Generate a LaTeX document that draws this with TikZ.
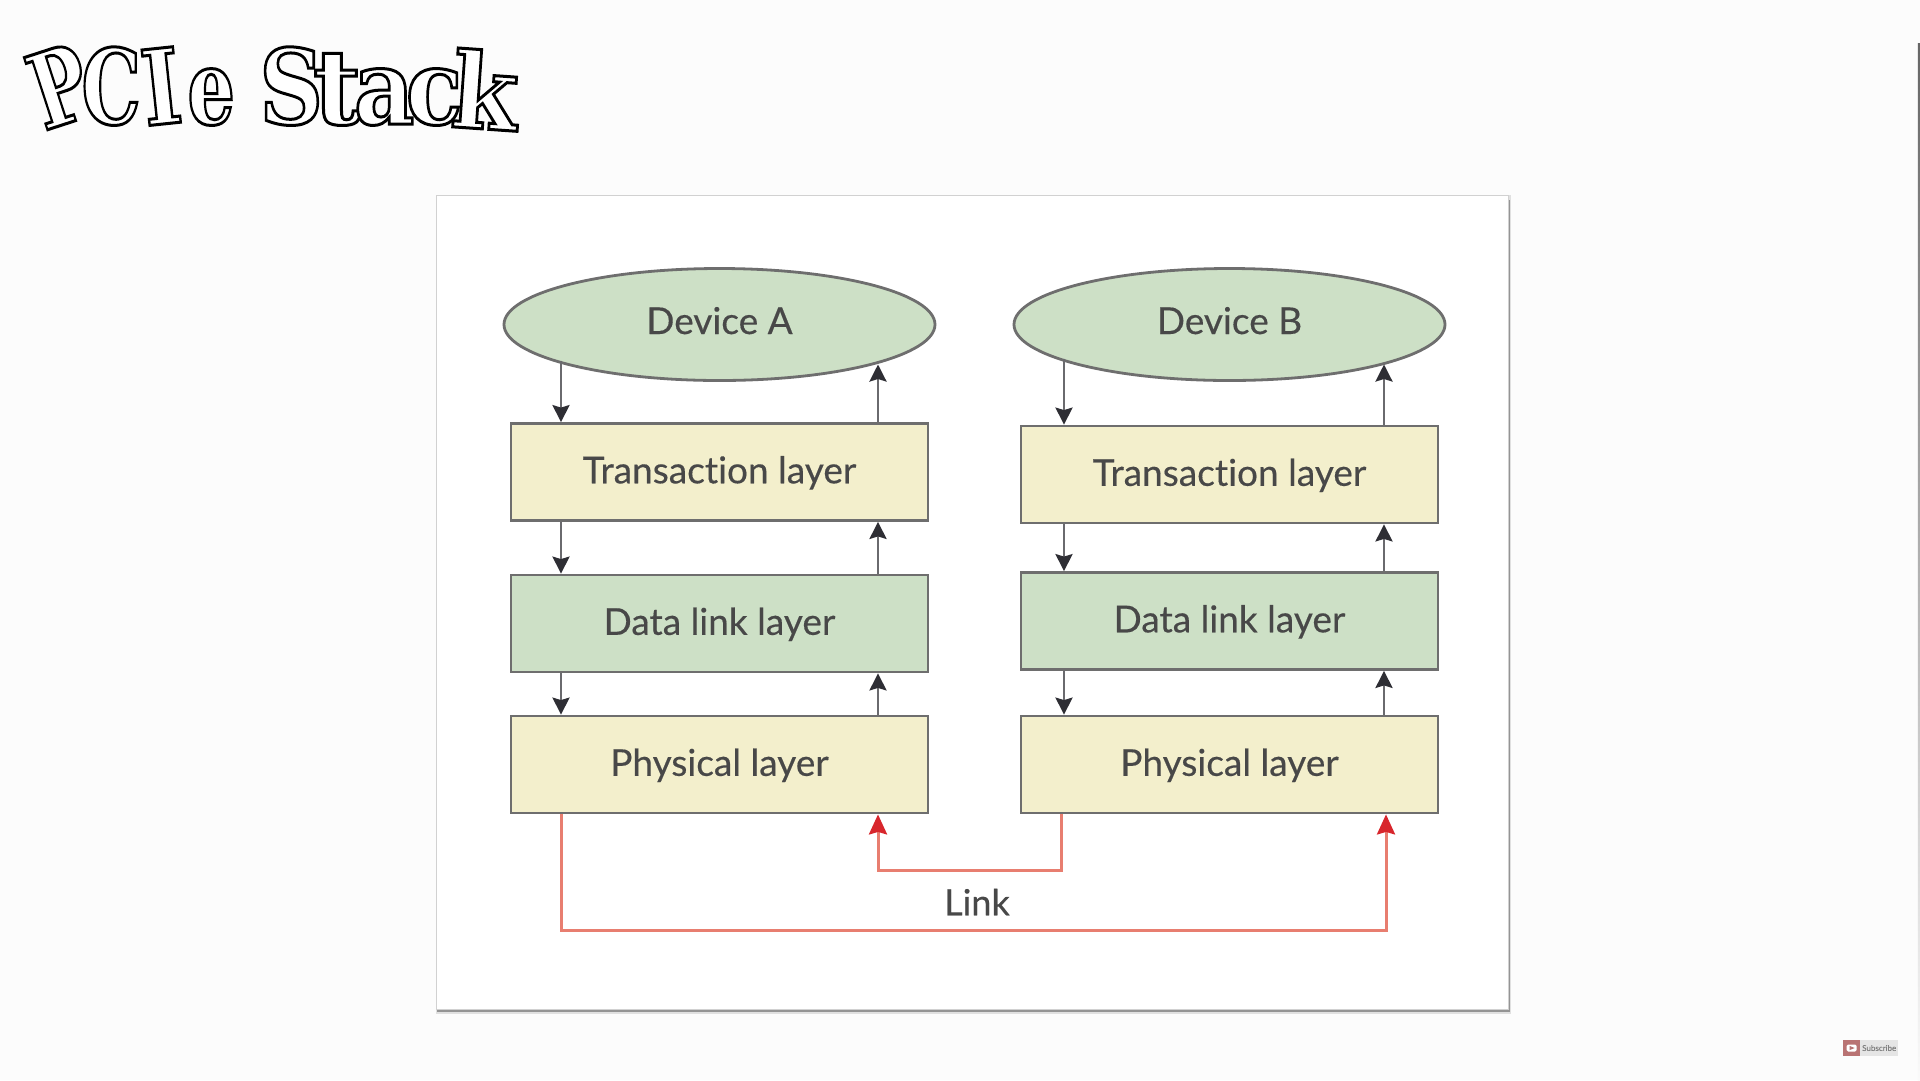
\documentclass[tikz,border=0pt]{standalone}
\usepackage{fontspec}
\usepackage{graphicx}
\setmainfont[Ligatures=NoCommon,FakeBold=0.35]{Lato}
\newfontfamily\titlefont{DejaVu Serif Bold}
\usetikzlibrary{arrows.meta,shapes.geometric,calc}
\definecolor{boxline}{HTML}{6E6E6E}
\definecolor{txt}{HTML}{484848}
\definecolor{yel}{HTML}{F3EFCC}
\definecolor{grn}{HTML}{CDE0C6}
\definecolor{stem}{HTML}{6A6A6E}
\definecolor{headc}{HTML}{2E2E34}
\definecolor{redl}{HTML}{E87E70}
\definecolor{redh}{HTML}{D8262C}
\newcommand{\lett}[5]{\makebox[#1pt][c]{\raisebox{#3pt}{\rotatebox[origin=c]{#2}{\scalebox{#4}[1]{\special{pdf:code 2 Tr 3 w 1 g 0 G}#5\special{pdf:code 0 Tr 1 w 0 g 0 G}}}}}}
\tikzset{
  layerbox/.style={draw=boxline,line width=2.8pt,minimum width=417pt,minimum height=97pt,inner sep=0pt,font=\fontsize{37}{44}\selectfont,text=txt,text height=22.6pt,text depth=0pt},
  yelbox/.style={layerbox,fill=yel},
  grnbox/.style={layerbox,fill=grn},
  devell/.style={ellipse,draw=boxline,line width=2.8pt,fill=grn,minimum width=431pt,minimum height=112pt,inner sep=0pt,font=\fontsize{37}{44}\selectfont,text=txt,text height=19pt,text depth=0pt},
  arr/.style={draw=stem,line width=2.6pt,-{Stealth[length=17pt,width=17pt,inset=2.5pt,fill=headc,color=headc]}},
  redarr/.style={draw=redl,line width=3pt,-{Stealth[length=20pt,width=18pt,inset=2.5pt,fill=redh,color=redh]}},
}
\begin{document}
\begin{tikzpicture}[x=1pt,y=-1pt]
\useasboundingbox (0,0) rectangle (1920,1080);
\fill[white!99!black] (0,0) rectangle (1920,1080);
% right edge line
\shade[top color=black!60,bottom color=white!98!black] (1917.8,43) rectangle (1920,1080);
% panel
\fill[black!12] (436,195) rectangle (1511,1014);
\fill[black!42] (437,200) rectangle (1510,1011.5);
\node[draw=black!18,line width=1pt,fill=white,minimum width=1072pt,minimum height=814pt,inner sep=0pt,anchor=north west] (panel) at (436,195) {};
% title
\node[anchor=base west,inner sep=0pt,text=black] (title) at (30,124) {\titlefont\fontsize{104}{110}\selectfont
  \lett{58}{18}{0}{.72}{P}\kern-6pt%
  \lett{58}{0}{0}{.72}{C}\kern-7pt%
  \lett{56}{6}{0}{.8}{I}\kern-2pt%
  \lett{48}{0}{0}{.72}{e}%
  \makebox[24pt]{ }%
  \lett{64}{0}{0}{.85}{S}\kern-10pt%
  \lett{48}{0}{0}{1}{t}\kern-4pt%
  \lett{54}{0}{0}{.9}{a}\kern-3pt%
  \lett{52}{0}{0}{.9}{c}\kern-7pt%
  \lett{64}{-4}{-5}{.92}{k}};
% devices
\node[devell] (devA) at (719.5,324.5) {Device A};
\node[devell] (devB) at (1229.5,324.5) {Device B};
% left stack
\node[yelbox] (tA) at (719.5,472) {Transaction layer};
\node[grnbox] (dA) at (719.5,623.5) {Data link layer};
\node[yelbox] (pA) at (719.5,764.5) {Physical layer};
% right stack
\node[yelbox] (tB) at (1229.5,474.5) {Transaction layer};
\node[grnbox] (dB) at (1229.5,621) {Data link layer};
\node[yelbox] (pB) at (1229.5,764.5) {Physical layer};
% arrow anchors
\coordinate (adn) at ($(devA.center)+(-158.5,36)$);
\coordinate (aup) at ($(devA.center)+(158.5,40)$);
\coordinate (bdn) at ($(devB.center)+(-165.5,34)$);
\coordinate (bup) at ($(devB.center)+(154.5,40)$);
\draw[arr] (adn) -- (adn |- tA.north);
\draw[arr] (aup |- tA.north) -- (aup);
\draw[arr] (tA.south -| adn) -- (dA.north -| adn);
\draw[arr] (dA.north -| aup) -- (tA.south -| aup);
\draw[arr] (dA.south -| adn) -- (pA.north -| adn);
\draw[arr] (pA.north -| aup) -- (dA.south -| aup);
% right arrows
\draw[arr] (bdn) -- (bdn |- tB.north);
\draw[arr] (bup |- tB.north) -- (bup);
\draw[arr] (tB.south -| bdn) -- (dB.north -| bdn);
\draw[arr] (dB.north -| bup) -- (tB.south -| bup);
\draw[arr] (dB.south -| bdn) -- (pB.north -| bdn);
\draw[arr] (pB.north -| bup) -- (dB.south -| bup);
% link
\coordinate (l1) at (1061.6,870.6);
\coordinate (l2) at (561,930.6);
\draw[redarr] (pA.south -| l2) -- (l2) -| ($(pB.south -| bup)+(2,0)$);
\draw[redarr] (pB.south -| l1) -- (l1) -| (pA.south -| aup);
\node[inner sep=0pt,text=txt,font=\fontsize{36}{42}\selectfont] (link) at (977,902) {Link};
% subscribe badge
\node[fill=red!50!black!55!white,minimum width=17pt,minimum height=16pt,inner sep=0pt,anchor=west] (ico) at (1843,1048) {};
\fill[white,rounded corners=1.5pt] ($(ico.center)+(-5,-3.5)$) rectangle ($(ico.center)+(5,3.5)$);
\fill[red!50!black!55!white] ($(ico.center)+(-2,-2)$) -- ($(ico.center)+(3,0)$) -- ($(ico.center)+(-2,2)$) -- cycle;
\node[fill=black!10,minimum width=38pt,minimum height=16pt,inner sep=0pt,anchor=west,text=black!50,font=\fontsize{8}{9}\selectfont] (sub) at (1860,1048) {Subscribe};
\end{tikzpicture}
\end{document}
